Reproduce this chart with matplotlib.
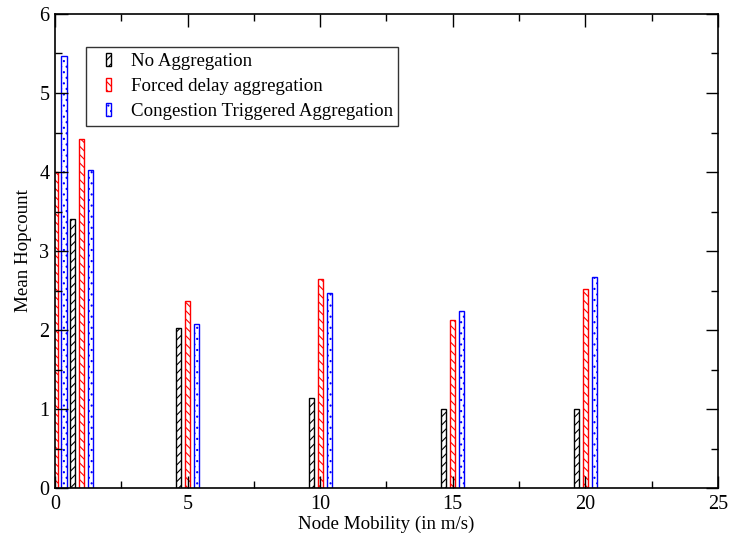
import numpy as np
import matplotlib.pyplot as plt
from matplotlib.ticker import MultipleLocator
from matplotlib.patches import Rectangle
from matplotlib.container import BarContainer
from matplotlib.legend_handler import HandlerPatch, update_from_first_child

plt.rcParams['font.family'] = ['Liberation Serif', 'DejaVu Serif']
plt.rcParams['hatch.linewidth'] = 0.8

# mean hop count per node mobility setting
mobility = [0, 1, 5, 10, 15, 20]
no_agg = [0.0, 3.40, 2.02, 1.14, 1.00, 1.00]
forced_delay = [4.00, 4.42, 2.37, 2.65, 2.13, 2.52]
congestion = [5.47, 4.03, 2.08, 2.47, 2.24, 2.67]

series = [
    ('No Aggregation', no_agg, 'black', '////'),
    ('Forced delay aggregation', forced_delay, 'red', '\\\\\\\\'),
    ('Congestion Triggered Aggregation', congestion, 'blue', '...'),
]


def narrow_box(legend, orig_handle, xdescent, ydescent, width, height, fontsize):
    # thin upright swatch placed at the right of the handle area
    w = 3.6
    h = 9.4
    return Rectangle((-xdescent + width - w, -ydescent + (height - h) / 2), w, h)


fig = plt.figure(figsize=(7.33, 5.37), dpi=100)
ax = fig.add_axes([0.075, 0.091, 0.9045, 0.883])

x = np.array(mobility, dtype=float)
width = 0.2
offsets = [-0.34, 0.0, 0.34]
for (label, vals, color, hatch), off in zip(series, offsets):
    ax.bar(x + off, vals, width, facecolor='white', edgecolor=color,
           hatch=hatch, linewidth=1.0, label=label, zorder=1)

ax.set_xlim(0, 25)
ax.set_ylim(0, 6)
ax.xaxis.set_major_locator(MultipleLocator(5))
ax.xaxis.set_minor_locator(MultipleLocator(2.5))
ax.yaxis.set_major_locator(MultipleLocator(1))
ax.yaxis.set_minor_locator(MultipleLocator(0.5))
ax.tick_params(which='both', direction='in', top=True, right=True,
               labelsize=14.5, width=1.0)
ax.tick_params(which='major', length=9)
ax.tick_params(which='minor', length=5)
ax.tick_params(axis='x', which='major', pad=5)
ax.tick_params(axis='y', which='major', pad=4)
for sp in ax.spines.values():
    sp.set_linewidth(1.2)

ax.set_xlabel('Node Mobility (in m/s)', fontsize=13.7, labelpad=1)
ax.set_ylabel('Mean Hopcount', fontsize=13.7, labelpad=5)

handler = HandlerPatch(patch_func=narrow_box, update_func=update_from_first_child)
leg = ax.legend(loc='upper left', bbox_to_anchor=(0.047, 0.93), fontsize=13.6,
                frameon=True, fancybox=False, edgecolor='black',
                handlelength=1.0, handleheight=0.7, handletextpad=1.05,
                borderpad=0.3, labelspacing=0.42, borderaxespad=0,
                handler_map={BarContainer: handler})
leg.get_frame().set_linewidth(1.0)

fig.savefig('out.png', dpi=100)
